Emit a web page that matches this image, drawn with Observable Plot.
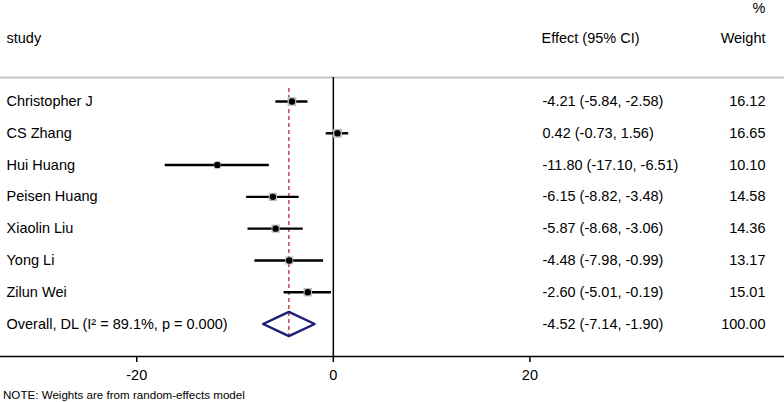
<!DOCTYPE html>
<html>
<head>
<meta charset="utf-8">
<script src="https://cdn.jsdelivr.net/npm/d3@7"></script>
<script src="https://cdn.jsdelivr.net/npm/@observablehq/plot@0.6"></script>
<style>
  body { margin: 0; background: #fff; font-family: "Liberation Sans", Arial, sans-serif; }
  #note { font-size: 11.6px; line-height: 14px; height: 14px; padding-left: 3px; color: #000; white-space: nowrap; }
</style>
</head>
<body>
<div id="chart"></div>
<div id="note">NOTE: Weights are from random-effects model</div>
<script>
const studies = ["Christopher J", "CS Zhang", "Hui Huang", "Peisen Huang", "Xiaolin Liu", "Yong Li", "Zilun Wei"];
const effect  = [-4.21, 0.42, -11.80, -6.15, -5.87, -4.48, -2.60];
const lower   = [-5.84, -0.73, -17.10, -8.82, -8.68, -7.98, -5.01];
const upper   = [-2.58, 1.56, -6.51, -3.48, -3.06, -0.99, -0.19];
const weights = [16.12, 16.65, 10.10, 14.58, 14.36, 13.17, 15.01];
const overallLabel = "Overall, DL (I\u00B2 = 89.1%, p = 0.000)";
const overallEffect = -4.52, overallLower = -7.14, overallUpper = -1.90, overallWeight = 100.00;
const xTicks = [-20, 0, 20];

const rows = studies.map((s, i) => ({
  study: s, i, est: effect[i], lo: lower[i], hi: upper[i], w: weights[i],
  label: `${effect[i].toFixed(2)} (${lower[i].toFixed(2)}, ${upper[i].toFixed(2)})`
}));
const oi = studies.length;
const allRows = [...rows, {
  study: overallLabel, i: oi, est: overallEffect, lo: overallLower, hi: overallUpper, w: overallWeight,
  label: `${overallEffect.toFixed(2)} (${overallLower.toFixed(2)}, ${overallUpper.toFixed(2)})`
}];
const dh = 0.38;
const diamond = [
  {x: overallLower, y: oi}, {x: overallEffect, y: oi - dh},
  {x: overallUpper, y: oi}, {x: overallEffect, y: oi + dh}, {x: overallLower, y: oi}
];

const FS = 14.5;
const font = "Liberation Sans, Arial, sans-serif";

const chart = Plot.plot({
  width: 784,
  height: 388,
  marginTop: 77,
  marginBottom: 32,
  marginLeft: 0,
  marginRight: 0,
  style: {fontFamily: font, fontSize: FS + "px", color: "#000", background: "#fff"},
  x: {domain: [-33.86, 45.9], range: [0, 784]},
  y: {domain: [0, oi], range: [101, 323.5], axis: null},
  r: {range: [0, 5], domain: [0, 16.65]},
  marks: [
    Plot.frame({anchor: "top", stroke: "#c4c4c4", strokeWidth: 2}),
    Plot.ruleX([overallEffect], {stroke: "#b02a3a", strokeWidth: 1.3, strokeDasharray: "4,3", insetTop: 11, insetBottom: 19}),
    Plot.ruleX([0], {stroke: "#000", strokeWidth: 1.5}),
    Plot.ruleY(rows, {x1: "lo", x2: "hi", y: "i", stroke: "#000", strokeWidth: 2.4}),
    Plot.dot(rows, {x: "est", y: "i", r: "w", symbol: "square", fill: "#bdbdbd"}),
    Plot.dot(rows, {x: "est", y: "i", r: 3.2, fill: "#000"}),
    Plot.line(diamond, {x: "x", y: "y", stroke: "#1c1c78", strokeWidth: 2.4}),
    Plot.text(allRows, {y: "i", text: "study", frameAnchor: "left", dx: 6, textAnchor: "start", fontSize: FS, fill: "#000"}),
    Plot.text(allRows, {y: "i", text: "label", frameAnchor: "left", dx: 542, textAnchor: "start", fontSize: FS, fill: "#000"}),
    Plot.text(allRows, {y: "i", text: d => d.w.toFixed(2), frameAnchor: "right", dx: -19, textAnchor: "end", fontSize: FS, fill: "#000"}),
    Plot.text(["study"], {frameAnchor: "top-left", dx: 6, dy: -39.3, textAnchor: "start", lineAnchor: "middle", fontSize: FS, fill: "#000"}),
    Plot.text(["Effect (95% CI)"], {frameAnchor: "top-left", dx: 541, dy: -39.3, textAnchor: "start", lineAnchor: "middle", fontSize: FS, fill: "#000"}),
    Plot.text(["Weight"], {frameAnchor: "top-right", dx: -19, dy: -39.3, textAnchor: "end", lineAnchor: "middle", fontSize: FS, fill: "#000"}),
    Plot.text(["%"], {frameAnchor: "top-right", dx: -19, dy: -69, textAnchor: "end", lineAnchor: "middle", fontSize: FS, fill: "#000"}),
    Plot.frame({anchor: "bottom", stroke: "#000", strokeWidth: 1.5}),
    Plot.axisX({ticks: xTicks, tickSize: 6, tickPadding: 7, tickFormat: d => String(d), fontSize: FS, stroke: "#000", strokeWidth: 1.5, label: null})
  ]
});
document.getElementById("chart").appendChild(chart);
</script>
</body>
</html>
